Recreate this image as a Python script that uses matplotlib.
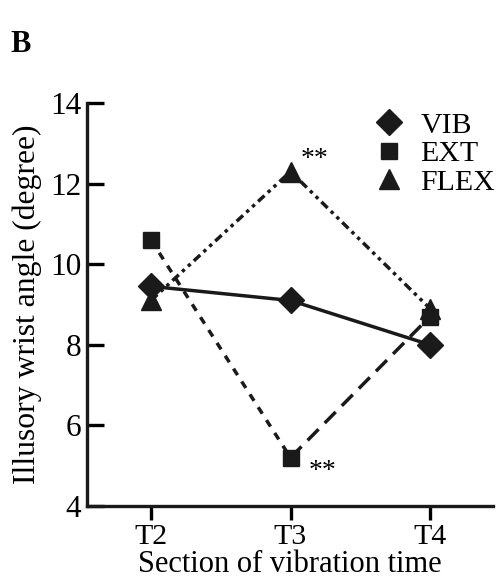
import matplotlib
matplotlib.use("Agg")
import matplotlib.pyplot as plt

sections = ["T2", "T3", "T4"]
vib = [9.45, 9.1, 8.0]
ext = [10.6, 5.2, 8.7]
flex = [9.1, 12.3, 8.9]
yticks = [4, 6, 8, 10, 12, 14]

plt.rcParams['font.family'] = ['Liberation Serif', 'DejaVu Serif']

fig = plt.figure(figsize=(5.0, 5.83), dpi=100)
ax = fig.add_axes([87/500, 1-506/583, (493-87)/500, (506-103)/583])

x = [1, 2, 3]
c = '#1a1a1a'
lw = 2.5
# VIB solid
ax.plot(x, vib, color=c, lw=lw, ls='-', marker='D', ms=13, zorder=3)
# EXT: short dash then longer dash
ax.plot(x[:2], ext[:2], color=c, lw=lw, ls=(0, (2.2, 2.2)), zorder=2)
ax.plot(x[1:], ext[1:], color=c, lw=lw, ls=(0, (4.5, 2.5)), zorder=2)
ax.plot(x, ext, color=c, lw=0, marker='s', ms=12, zorder=3)
# FLEX dash-dot-dot
ax.plot(x, flex, color=c, lw=lw, ls=(0, (2.5, 1.3, 1, 1.3, 1, 1.3)), marker='^', ms=14, zorder=3)

ax.text(2.07, 12.6, "**", fontsize=20, ha='left', va='center')
ax.text(2.13, 4.85, "**", fontsize=20, ha='left', va='center')

ax.set_xlim(1 - 64/139.5, 3 + 63/139.5)
ax.set_ylim(4, 14)
ax.set_xticks(x)
ax.set_xticklabels(sections)
ax.set_yticks(yticks)
ax.tick_params(axis='y', direction='in', length=12, width=2.4, labelsize=22.5, pad=4)
ax.tick_params(axis='x', direction='out', length=10, width=2.4, labelsize=21.5, pad=3)
for s in ['top', 'right']:
    ax.spines[s].set_visible(False)
for s in ['left', 'bottom']:
    ax.spines[s].set_linewidth(2.4)
    ax.spines[s].set_color(c)

ax.set_xlabel("Section of vibration time", fontsize=22, labelpad=0)
ax.set_ylabel("Illusory wrist angle (degree)", fontsize=22.8, labelpad=6)

# legend
from matplotlib.lines import Line2D
handles = [Line2D([], [], ls='none', marker='D', ms=13, color=c),
           Line2D([], [], ls='none', marker='s', ms=12, color=c),
           Line2D([], [], ls='none', marker='^', ms=14, color=c)]
leg = fig.legend(handles, ["VIB", "EXT", "FLEX"], loc='upper left',
                 bbox_to_anchor=(362/500, 1-100/583), frameon=False,
                 fontsize=21.5, handlelength=1.0, handletextpad=0.55,
                 labelspacing=0.05, borderaxespad=0)

fig.text(10/500, 1-45/583, "B", fontsize=22, fontweight='bold', ha='left', va='center')

fig.savefig("out.png", dpi=100)
